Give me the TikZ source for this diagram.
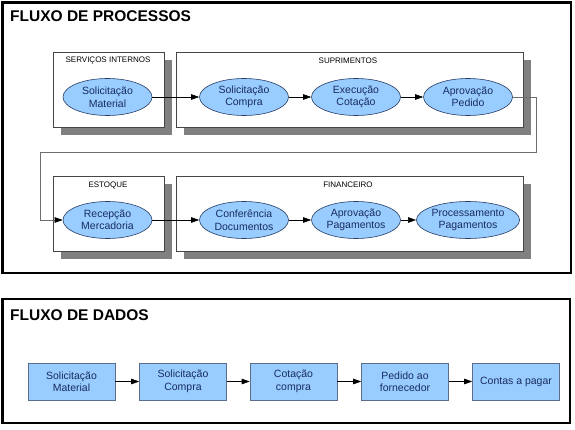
\documentclass[tikz,border=0pt]{standalone}
\usepackage{fontspec}
\setmainfont{Liberation Sans}
\usetikzlibrary{arrows.meta,shapes.geometric,shadows}
\definecolor{ellfill}{RGB}{153,204,255}
\definecolor{elldraw}{RGB}{40,60,100}
\definecolor{elltext}{RGB}{25,45,95}
\definecolor{boxdraw}{RGB}{90,110,140}
\definecolor{shadowgray}{RGB}{128,128,128}
\definecolor{lanedraw}{RGB}{70,70,70}
\definecolor{retline}{RGB}{110,110,110}
\tikzset{
  outerbox/.style={draw=black,line width=2.8pt},
  title/.style={anchor=west,font=\fontsize{15.5}{17}\selectfont\bfseries,inner sep=0pt},
  lane/.style={draw=lanedraw,line width=0.7pt,fill=white,
    drop shadow={shadow xshift=8pt,shadow yshift=-8pt,fill=shadowgray,opacity=1}},
  lanelabel/.style={font=\fontsize{8}{9}\selectfont,inner sep=0pt},
  proc/.style={ellipse,draw=elldraw,line width=0.6pt,fill=ellfill,text=elltext,
    minimum width=89pt,minimum height=37pt,inner sep=0pt,align=center,
    font=\fontsize{10.5}{12.5}\selectfont},
  data/.style={rectangle,draw=boxdraw,line width=0.6pt,fill=ellfill,text=elltext,
    minimum width=87pt,minimum height=37pt,inner sep=0pt,align=center,
    font=\fontsize{10.5}{12.5}\selectfont},
  flow/.style={draw=black,line width=0.6pt,-{Triangle[length=8pt,width=5.5pt]}},
  retflow/.style={draw=retline,line width=0.8pt,-{Triangle[length=8pt,width=5.5pt,color=black,fill=black]}}
}
\begin{document}
\begin{tikzpicture}[x=1pt,y=-1pt]
\useasboundingbox (0,0) rectangle (575,430);
\fill[white] (0,0) rectangle (575,430);
% outer frames
\draw[outerbox] (2.5,2.5) rectangle (571,273);
\draw[outerbox] (2.5,299) rectangle (570,423);
\node[title] (t1) at (10,16) {FLUXO DE PROCESSOS};
\node[title] (t2) at (10,315) {FLUXO DE DADOS};
% swimlanes
\node[lane,minimum width=111pt,minimum height=75pt,inner sep=0pt] (si) at (108.5,90) {};
\node[lane,minimum width=347pt,minimum height=75pt,inner sep=0pt] (su) at (349.5,90) {};
\node[lane,minimum width=111pt,minimum height=75pt,inner sep=0pt] (es) at (108.5,213.5) {};
\node[lane,minimum width=347pt,minimum height=75pt,inner sep=0pt] (fi) at (349.5,213.5) {};
\node[lanelabel] (lsi) at (108,60.5) {SERVIÇOS INTERNOS};
\node[lanelabel] (lsu) at (348,61) {SUPRIMENTOS};
\node[lanelabel] (les) at (108,185) {ESTOQUE};
\node[lanelabel] (lfi) at (348,185) {FINANCEIRO};
% process ellipses
\node[proc] (p1) at (107.5,97) {Solicitação\\Material};
\node[proc] (p2) at (244,97) {Solicitação\\Compra};
\node[proc] (p3) at (356,97) {Execução\\Cotação};
\node[proc] (p4) at (468,97) {Aprovação\\Pedido};
\node[proc] (p5) at (107.5,220) {Recepção\\Mercadoria};
\node[proc] (p6) at (244,220) {Conferência\\Documentos};
\node[proc] (p7) at (356,220) {Aprovação\\Pagamentos};
\node[proc] (p8) at (468,220) {Processamento\\Pagamentos};
\draw[flow] (p1) -- (p2);
\draw[flow] (p2) -- (p3);
\draw[flow] (p3) -- (p4);
\draw[flow] (p5) -- (p6);
\draw[flow] (p6) -- (p7);
\draw[flow] (p7) -- (p8);
\coordinate (r1) at (536,97);
\coordinate (r2) at (536,152);
\coordinate (r3) at (40,152);
\coordinate (r4) at (40,220);
\draw[retflow] (p4.east) -- (r1) -- (r2) -- (r3) -- (r4) -- (p5.west);
% data flow
\node[data] (d1) at (71.5,381.5) {Solicitação\\Material};
\node[data] (d2) at (183,381.5) {Solicitação\\Compra};
\node[data] (d3) at (293.5,381.5) {Cotação\\compra};
\node[data] (d4) at (405,381.5) {Pedido ao\\fornecedor};
\node[data] (d5) at (516,381.5) {Contas a pagar};
\draw[flow] (d1) -- (d2);
\draw[flow] (d2) -- (d3);
\draw[flow] (d3) -- (d4);
\draw[flow] (d4) -- (d5);
\end{tikzpicture}
\end{document}
